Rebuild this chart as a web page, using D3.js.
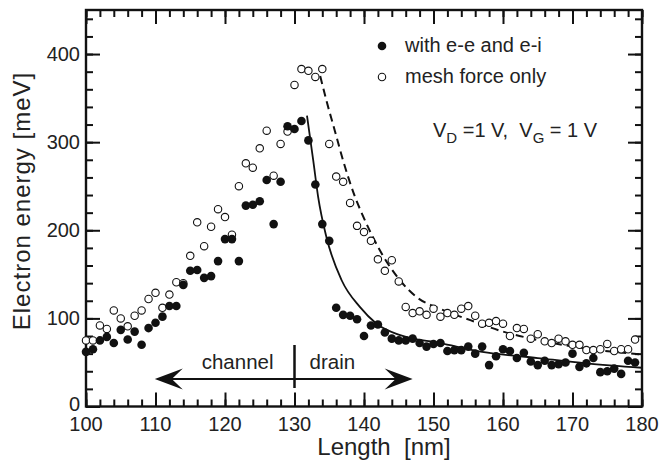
<!DOCTYPE html>
<html>
<head>
<meta charset="utf-8">
<script src="https://cdn.jsdelivr.net/npm/d3@7/dist/d3.min.js"></script>
<style>
  html, body { margin: 0; padding: 0; background: #fff; }
  svg { display: block; font-family: "Liberation Sans", Arial, Helvetica, sans-serif; }
  text { white-space: pre; }
</style>
</head>
<body>
<svg id="chart" width="661" height="469"></svg>
<script>
// Position along the device [nm], one sample per nanometre
const lengthNm = d3.range(100, 180);

// Electron energy [meV] with electron-electron and electron-ion interaction
const energyWithEE = [62, 65, 75, 79, 72, 87, 76, 85, 70, 89,
  95, 102, 114, 114, 138, 154, 155, 146, 148, 165,
  190, 190, 165, 228, 229, 233, 257, 207, 255, 318,
  315, 324, 302, 252, 207, 188, 112, 104, 103, 99,
  80, 92, 93, 84, 77, 75, 75, 77, 72, 68,
  71, 72, 63, 64, 64, 68, 60, 68, 47, 57,
  65, 63, 55, 61, 51, 47, 52, 47, 48, 50,
  60, 45, 49, 55, 39, 40, 43, 37, 52, 50];

// Electron energy [meV] with the mesh force only
const energyMeshOnly = [75, 75, 92, 88, 109, 100, 91, 103, 109, 122,
  129, 112, 127, 141, 140, 171, 209, 182, 204, 224,
  215, 195, 250, 276, 271, 293, 313, 262, 298, 312,
  365, 383, 381, 374, 383, 298, 261, 255, 231, 205,
  198, 188, 167, 154, 166, 142, 113, 106, 108, 104,
  111, 102, 106, 104, 111, 114, 103, 94, 95, 97,
  94, 80, 89, 88, 77, 82, 74, 72, 77, 74,
  70, 70, 64, 64, 65, 71, 63, 65, 65, 76];

// Fitted decay in the drain region (solid: with e-e and e-i)
const fitSolidX = [131.8, 132.7, 133.4, 134.6, 136.8, 139.4, 141.8, 145.2, 151, 157, 165, 172, 180];
const fitSolidY = [330, 279, 238, 192, 143, 113, 94, 81, 72, 62, 55, 49, 44];

// Fitted decay in the drain region (dashed: mesh force only)
const fitDashedX = [133.7, 134.6, 135.8, 137, 138.7, 139.7, 142.3, 145.2, 147.6, 150.9, 155.3, 160, 165.3, 170.1, 180];
const fitDashedY = [375, 347, 313, 279, 238, 219, 177, 143, 124, 111, 98, 85, 75, 68, 59];

// Axis ticks
const xTickLabels = [100, 110, 120, 130, 140, 150, 160, 170, 180];
const yTickLabels = [0, 100, 200, 300, 400];

const legendLabels = ["with e-e and e-i", "mesh force only"];

const svg = d3.select("#chart");
const frame = { left: 86, right: 642, top: 10, bottom: 406.5 };

const x = d3.scaleLinear().domain([100, 180]).range([frame.left, frame.right]);
const y = d3.scaleLinear().domain([0, 450]).range([frame.bottom, frame.top]);

// Frame ticks point inward on all four sides
function tickSet(axisGen, minorVals, majorVals, g) {
  g.call(axisGen.tickValues(minorVals).tickSize(-7).tickFormat(""));
  g.selectAll(".tick line").attr("stroke", "#111").attr("stroke-width", 2);
  const gm = g.append("g");
  gm.call(axisGen.tickValues(majorVals).tickSize(-14).tickFormat(""));
  gm.select(".domain").remove();
  gm.selectAll(".tick line").attr("stroke", "#111").attr("stroke-width", 2);
  g.select(".domain").remove();
}

const xMinor = d3.range(100, 181, 2);
const yMinor = d3.range(0, 451, 20);

tickSet(d3.axisBottom(x), xMinor, xTickLabels, svg.append("g").attr("transform", `translate(0,${frame.bottom})`));
tickSet(d3.axisTop(x), xMinor, xTickLabels, svg.append("g").attr("transform", `translate(0,${frame.top})`));
tickSet(d3.axisLeft(y), yMinor, yTickLabels, svg.append("g").attr("transform", `translate(${frame.left},0)`));
tickSet(d3.axisRight(y), yMinor, yTickLabels, svg.append("g").attr("transform", `translate(${frame.right},0)`));

svg.append("rect")
  .attr("x", frame.left).attr("y", frame.top)
  .attr("width", frame.right - frame.left).attr("height", frame.bottom - frame.top)
  .attr("fill", "none").attr("stroke", "#111").attr("stroke-width", 2.4);

// Tick labels
svg.append("g").selectAll("text").data(xTickLabels).join("text")
  .attr("x", d => x(d)).attr("y", frame.bottom + 24)
  .attr("text-anchor", "middle")
  .attr("font-size", 20).attr("fill", "#222")
  .text(d => d);

svg.append("g").selectAll("text").data(yTickLabels).join("text")
  .attr("x", frame.left - 6).attr("y", d => y(d) + (d === 0 ? 4 : 7))
  .attr("text-anchor", "end")
  .attr("font-size", 20).attr("fill", "#222")
  .text(d => d);

// Axis titles
svg.append("text")
  .attr("x", 384).attr("y", 455)
  .attr("text-anchor", "middle").attr("font-size", 24).attr("fill", "#222")
  .text("Length  [nm]");

svg.append("text")
  .attr("transform", "translate(30,201) rotate(-90)")
  .attr("text-anchor", "middle").attr("font-size", 24).attr("fill", "#222")
  .attr("letter-spacing", 1)
  .text("Electron energy [meV]");

// Fitted curves
const plot = svg.append("g");
const line = d3.line().x(d => x(d[0])).y(d => y(d[1])).curve(d3.curveMonotoneX);

plot.append("path")
  .datum(fitSolidX.map((v, i) => [v, fitSolidY[i]]))
  .attr("d", line).attr("fill", "none").attr("stroke", "#111").attr("stroke-width", 1.8);

plot.append("path")
  .datum(fitDashedX.map((v, i) => [v, fitDashedY[i]]))
  .attr("d", line).attr("fill", "none").attr("stroke", "#111").attr("stroke-width", 2)
  .attr("stroke-dasharray", "8,5");

// Data points
plot.append("g").selectAll("circle").data(lengthNm).join("circle")
  .attr("cx", d => x(d)).attr("cy", (d, i) => y(energyMeshOnly[i]))
  .attr("r", 3.7).attr("fill", "#fff").attr("stroke", "#111").attr("stroke-width", 1.1);

plot.append("g").selectAll("circle").data(lengthNm).join("circle")
  .attr("cx", d => x(d)).attr("cy", (d, i) => y(energyWithEE[i]))
  .attr("r", 4.3).attr("fill", "#111");

// Legend
const leg = svg.append("g");
leg.append("circle").attr("cx", 382).attr("cy", 46).attr("r", 4.3).attr("fill", "#111");
leg.append("circle").attr("cx", 382).attr("cy", 77).attr("r", 3.7)
  .attr("fill", "#fff").attr("stroke", "#111").attr("stroke-width", 1.1);
leg.selectAll("text").data(legendLabels).join("text")
  .attr("x", 405).attr("y", (d, i) => 52 + i * 31)
  .attr("font-size", 20).attr("fill", "#222")
  .text(d => d);

// Bias conditions
const bias = svg.append("text").attr("x", 433).attr("y", 137).attr("font-size", 20).attr("fill", "#222");
bias.append("tspan").text("V");
bias.append("tspan").attr("dy", 6).attr("font-size", 15).text("D");
bias.append("tspan").attr("dy", -6).text(" =1 V,  V");
bias.append("tspan").attr("dy", 6).attr("font-size", 15).text("G");
bias.append("tspan").attr("dy", -6).text(" = 1 V");

// Channel / drain annotation
const arrowY = 379;
svg.append("line")
  .attr("x1", x(130)).attr("x2", x(130))
  .attr("y1", 345).attr("y2", 388)
  .attr("stroke", "#111").attr("stroke-width", 2.5);

svg.append("line")
  .attr("x1", x(111)).attr("x2", x(146))
  .attr("y1", arrowY).attr("y2", arrowY)
  .attr("stroke", "#111").attr("stroke-width", 2.2);

function arrowHead(tipX, dir) {
  const L = 28, notch = 17, h = 10.5;
  const p = d3.path();
  p.moveTo(tipX, arrowY);
  p.lineTo(tipX + dir * L, arrowY - h);
  p.lineTo(tipX + dir * notch, arrowY);
  p.lineTo(tipX + dir * L, arrowY + h);
  p.closePath();
  svg.append("path").attr("d", p.toString()).attr("fill", "#111");
}
arrowHead(x(109.9), 1);
arrowHead(x(147), -1);

svg.append("text").attr("x", x(130) - 21).attr("y", 369)
  .attr("text-anchor", "end").attr("font-size", 20.5).attr("fill", "#222").text("channel");
svg.append("text").attr("x", x(130) + 15).attr("y", 369)
  .attr("font-size", 20.5).attr("fill", "#222").text("drain");
</script>
</body>
</html>
